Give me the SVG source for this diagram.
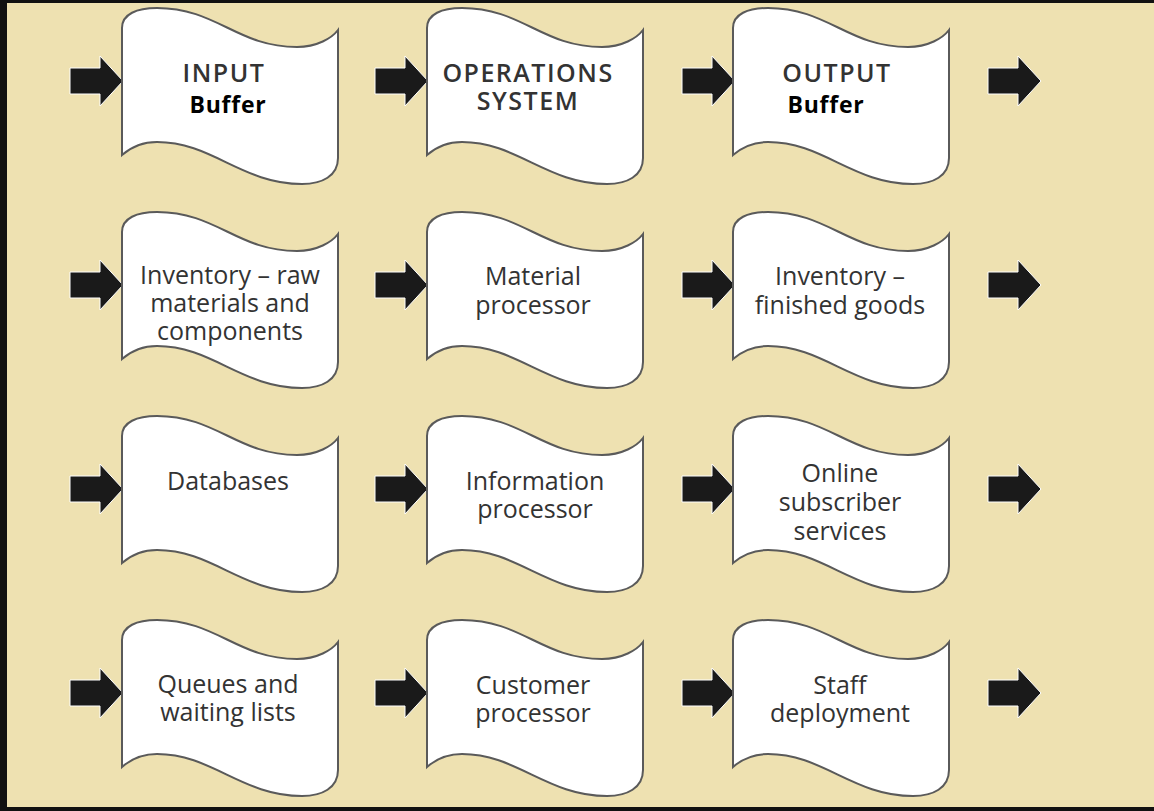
<svg xmlns="http://www.w3.org/2000/svg" xmlns:xlink="http://www.w3.org/1999/xlink" width="1154" height="811" viewBox="0 0 1154 811">
<style>
.bg{fill:#EEE1B1}
.frame{fill:#111}
.flag{fill:#fff;stroke:#5a5a5a;stroke-width:2}
.arr{fill:#1a1a1a;stroke:#fff;stroke-width:1}
.t{font-family:"Open Sans","Noto Sans",sans-serif;font-size:25px;fill:#333;text-anchor:middle}
.h{font-family:"Open Sans","Noto Sans",sans-serif;font-size:25px;font-weight:600;fill:#333;text-anchor:middle;letter-spacing:1.5px}
.b{font-family:"Open Sans","Noto Sans",sans-serif;font-size:23px;font-weight:700;fill:#000;text-anchor:middle;letter-spacing:0.8px}
</style>
<defs>
<path id="flagShape" class="flag" d="M0,147 L0,20 C0,6 15,0 35,0 C95,0 115,39 175,39 C195,39 210,30 216,22 L216,150 C216,168 200,176 180,176 C120,176 90,134 35,134 C20,134 8,140 0,147 Z"/>
<polygon id="arrow" class="arr" points="-53,-13 -23,-13 -23,-25 0,0 -23,25 -23,13 -53,13"/>
</defs>
<rect class="bg" x="0" y="0" width="1154" height="811"/>
<rect class="frame" x="0" y="0" width="1154" height="3"/>
<rect class="frame" x="0" y="0" width="7" height="811"/>
<rect class="frame" x="0" y="807" width="1154" height="4"/>

<g id="connectors">
<use xlink:href="#arrow" x="123" y="81"/>
<use xlink:href="#arrow" x="428" y="81"/>
<use xlink:href="#arrow" x="735" y="81"/>
<use xlink:href="#arrow" x="1041" y="81"/>
<use xlink:href="#arrow" x="123" y="285"/>
<use xlink:href="#arrow" x="428" y="285"/>
<use xlink:href="#arrow" x="735" y="285"/>
<use xlink:href="#arrow" x="1041" y="285"/>
<use xlink:href="#arrow" x="123" y="489"/>
<use xlink:href="#arrow" x="428" y="489"/>
<use xlink:href="#arrow" x="735" y="489"/>
<use xlink:href="#arrow" x="1041" y="489"/>
<use xlink:href="#arrow" x="123" y="693"/>
<use xlink:href="#arrow" x="428" y="693"/>
<use xlink:href="#arrow" x="735" y="693"/>
<use xlink:href="#arrow" x="1041" y="693"/>
</g>

<g id="input-buffer">
<use xlink:href="#flagShape" x="122" y="8"/>
<text class="h" x="224" y="82">INPUT</text>
<text class="b" x="228" y="113">Buffer</text>
</g>
<g id="operations-system">
<use xlink:href="#flagShape" x="427" y="8"/>
<text class="h" x="528" y="82">OPERATIONS</text>
<text class="h" x="528" y="110">SYSTEM</text>
</g>
<g id="output-buffer">
<use xlink:href="#flagShape" x="733" y="8"/>
<text class="h" x="837" y="82">OUTPUT</text>
<text class="b" x="826" y="113">Buffer</text>
</g>

<g id="inventory-raw">
<use xlink:href="#flagShape" x="122" y="212"/>
<text class="t" x="230" y="284">Inventory – raw</text>
<text class="t" x="230" y="312">materials and</text>
<text class="t" x="230" y="340">components</text>
</g>
<g id="material-processor">
<use xlink:href="#flagShape" x="427" y="212"/>
<text class="t" x="533" y="285">Material</text>
<text class="t" x="533" y="314">processor</text>
</g>
<g id="inventory-finished">
<use xlink:href="#flagShape" x="733" y="212"/>
<text class="t" x="840" y="285">Inventory –</text>
<text class="t" x="840" y="314">finished goods</text>
</g>

<g id="databases">
<use xlink:href="#flagShape" x="122" y="416"/>
<text class="t" x="228" y="490">Databases</text>
</g>
<g id="information-processor">
<use xlink:href="#flagShape" x="427" y="416"/>
<text class="t" x="535" y="490">Information</text>
<text class="t" x="535" y="518">processor</text>
</g>
<g id="online-subscriber">
<use xlink:href="#flagShape" x="733" y="416"/>
<text class="t" x="840" y="482">Online</text>
<text class="t" x="840" y="511">subscriber</text>
<text class="t" x="840" y="540">services</text>
</g>

<g id="queues">
<use xlink:href="#flagShape" x="122" y="620"/>
<text class="t" x="228" y="693">Queues and</text>
<text class="t" x="228" y="721">waiting lists</text>
</g>
<g id="customer-processor">
<use xlink:href="#flagShape" x="427" y="620"/>
<text class="t" x="533" y="694">Customer</text>
<text class="t" x="533" y="722">processor</text>
</g>
<g id="staff-deployment">
<use xlink:href="#flagShape" x="733" y="620"/>
<text class="t" x="840" y="694">Staff</text>
<text class="t" x="840" y="722">deployment</text>
</g>
</svg>
